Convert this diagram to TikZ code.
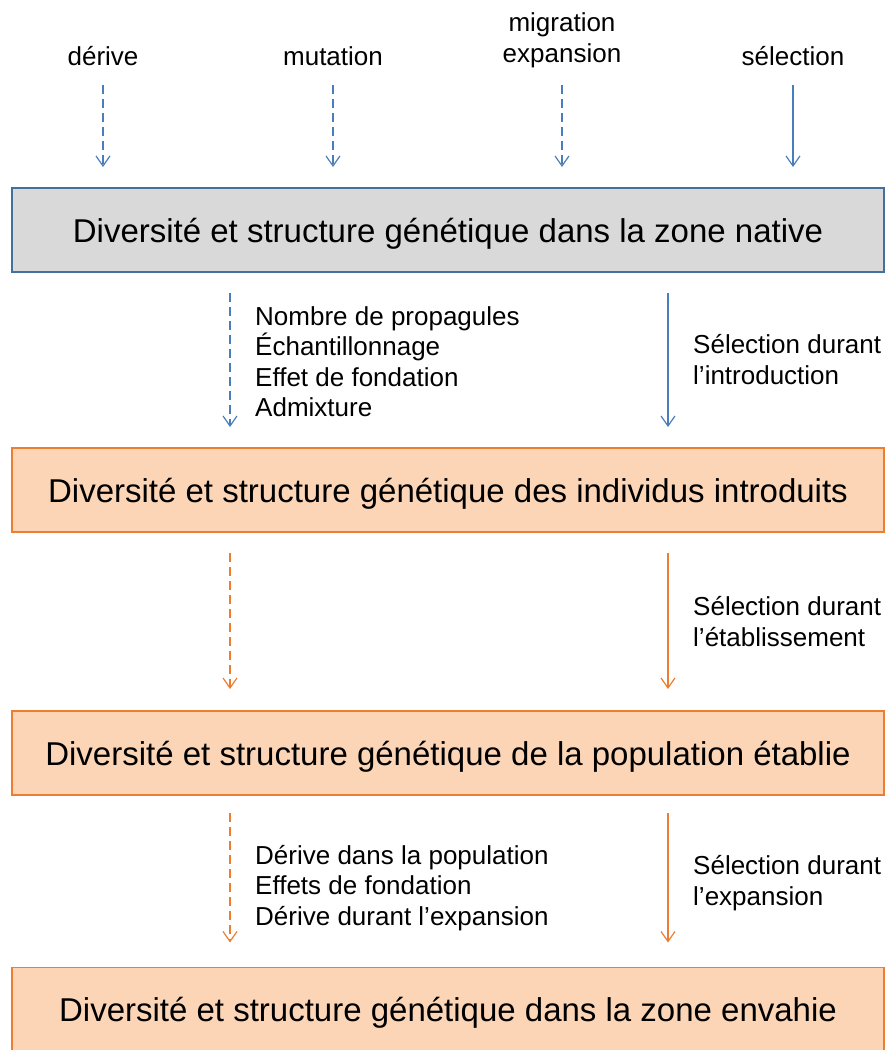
\documentclass[tikz,border=0pt]{standalone}
\usepackage{fontspec}
\setmainfont{Liberation Sans}
\usetikzlibrary{arrows.meta}
\definecolor{flowblue}{RGB}{74,126,187}
\definecolor{edgeblue}{RGB}{65,113,156}
\definecolor{boxgray}{RGB}{217,217,217}
\definecolor{floworange}{RGB}{237,125,49}
\definecolor{boxpeach}{RGB}{251,213,181}
\begin{document}
\begin{tikzpicture}[x=1pt,y=-1pt]
	\newcommand{\smallfont}{\fontsize{26}{30.5}\selectfont}
	\newcommand{\bigfont}{\fontsize{33}{40}\selectfont}
	\useasboundingbox (0,0) rectangle (888,1050);
	\tikzstyle{txt}=[inner sep=0pt,font=\smallfont]
	\tikzstyle{genbox}=[draw,line width=1.5pt,outer sep=0pt,minimum width=872pt,minimum height=84pt,inner sep=0pt,text height=24pt,text depth=0pt,font=\bigfont]
	\tikzstyle{flow}=[-{Straight Barb[length=10pt,width=14pt]},line width=1.2pt]
	\tikzstyle{dashflow}=[flow,dash pattern=on 9pt off 5pt]
	% boxes
	\node[genbox,fill=boxgray,draw=edgeblue] (native) at (448,230) {Diversité et structure génétique dans la zone native};
	\node[genbox,fill=boxpeach,draw=floworange] (introduits) at (448,490) {Diversité et structure génétique des individus introduits};
	\node[genbox,fill=boxpeach,draw=floworange] (etablie) at (448,753) {Diversité et structure génétique de la population établie};
	\node[genbox,fill=boxpeach,draw=floworange] (envahie) at (448,1009.5) {Diversité et structure génétique dans la zone envahie};
	% forces in the native range
	\node[txt,anchor=base] (derive) at (103,65) {dérive};
	\node[txt,anchor=base] (mutation) at (333,65) {mutation};
	\node[txt,anchor=base,align=center] (migration) at (562,62) {migration\\expansion};
	\node[txt,anchor=base] (selection) at (793,65) {sélection};
	\coordinate (d0) at (103,85);
	\coordinate (m0) at (333,85);
	\coordinate (g0) at (562,85);
	\coordinate (s0) at (793,85);
	\draw[dashflow,flowblue,shorten >=21pt] (d0) -- (d0 |- native.north);
	\draw[dashflow,flowblue,shorten >=21pt] (m0) -- (m0 |- native.north);
	\draw[dashflow,flowblue,shorten >=21pt] (g0) -- (g0 |- native.north);
	\draw[flow,flowblue,shorten >=21pt] (s0) -- (s0 |- native.north);
	% lanes
	\coordinate (lane1) at (230,0);
	\coordinate (lane2) at (668,0);
	\draw[dashflow,flowblue,shorten <=21pt,shorten >=21pt] (lane1 |- native.south) -- (lane1 |- introduits.north);
	\draw[flow,flowblue,shorten <=21pt,shorten >=21pt] (lane2 |- native.south) -- (lane2 |- introduits.north);
	\draw[dashflow,floworange,shorten <=21pt,shorten >=22pt] (lane1 |- introduits.south) -- (lane1 |- etablie.north);
	\draw[flow,floworange,shorten <=21pt,shorten >=22pt] (lane2 |- introduits.south) -- (lane2 |- etablie.north);
	\draw[dashflow,floworange,shorten <=18pt,shorten >=25pt] (lane1 |- etablie.south) -- (lane1 |- envahie.north);
	\draw[flow,floworange,shorten <=18pt,shorten >=25pt] (lane2 |- etablie.south) -- (lane2 |- envahie.north);
	% labels beside the lanes (base = last line)
	\node[txt,anchor=base west,align=left] (propagules) at (255,416.5) {Nombre de propagules\\Échantillonnage\\Effet de fondation\\Admixture};
	\node[txt,anchor=base west,align=left] (selintro) at (693,384) {Sélection durant\\l’introduction};
	\node[txt,anchor=base west,align=left] (seletab) at (693,646) {Sélection durant\\l’établissement};
	\node[txt,anchor=base west,align=left] (derivepop) at (255,925) {Dérive dans la population\\Effets de fondation\\Dérive durant l’expansion};
	\node[txt,anchor=base west,align=left] (selexp) at (693,905) {Sélection durant\\l’expansion};
\end{tikzpicture}
\end{document}
